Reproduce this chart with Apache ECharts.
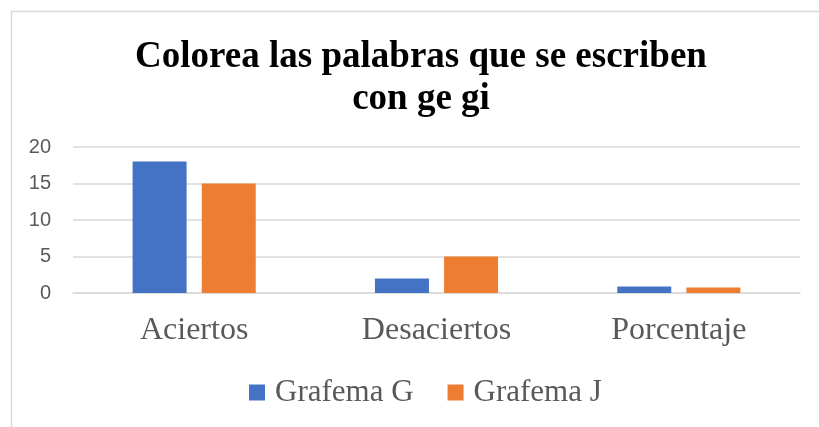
<!DOCTYPE html>
<html>
<head>
<meta charset="utf-8">
<script src="https://cdn.jsdelivr.net/npm/echarts@6/dist/echarts.min.js"></script>
<style>html,body{margin:0;padding:0;background:#fff}#c{width:819px;height:427px}</style>
</head>
<body>
<div id="c"></div>
<script>
var titleText = 'Colorea las palabras que se escriben\ncon ge gi';
var categories = ['Aciertos', 'Desaciertos', 'Porcentaje'];
var seriesNames = ['Grafema G', 'Grafema J'];
var grafemaG = [18, 2, 0.9];
var grafemaJ = [15, 5, 0.75];
var yTicks = [0, 5, 10, 15, 20];

var chart = echarts.init(document.getElementById('c'), null, {renderer: 'canvas'});
chart.setOption({
  animation: false,
  backgroundColor: '#fff',
  graphic: [{
    type: 'rect', left: 9, top: 9,
    shape: {width: 900, height: 900},
    style: {fill: 'none', stroke: '#d9d9d9', lineWidth: 1.5},
    silent: true
  }],
  title: {
    text: titleText,
    left: 421, top: 36, textAlign: 'center',
    padding: 0,
    textStyle: {fontFamily: 'Liberation Serif', fontWeight: 'bold', fontSize: 37, lineHeight: 42, color: '#000'}
  },
  legend: {
    data: seriesNames,
    left: 244, top: 372,
    itemWidth: 16, itemHeight: 16, itemGap: 34,
    icon: 'rect',
    textStyle: {fontFamily: 'Liberation Serif', fontSize: 31, color: '#595959', padding: [0, 0, 0, 5]}
  },
  grid: {left: 73, right: 19, top: 147, bottom: 134},
  xAxis: {
    type: 'category', data: categories,
    axisLine: {show: true, lineStyle: {color: '#d9d9d9', width: 1.5}},
    axisTick: {show: false},
    axisLabel: {fontFamily: 'Liberation Serif', fontSize: 32, color: '#595959', margin: 22}
  },
  yAxis: {
    type: 'value', min: yTicks[0], max: yTicks[yTicks.length - 1], interval: 5,
    axisLine: {show: false}, axisTick: {show: false},
    splitLine: {lineStyle: {color: '#d9d9d9', width: 1.5}},
    axisLabel: {fontFamily: 'Liberation Sans', fontSize: 20, color: '#595959', margin: 22}
  },
  series: [
    {name: seriesNames[0], type: 'bar', data: grafemaG, barWidth: 54, barGap: '28%', itemStyle: {color: '#4472c4'}},
    {name: seriesNames[1], type: 'bar', data: grafemaJ, barWidth: 54, barGap: '28%', itemStyle: {color: '#ed7d31'}}
  ]
});
</script>
</body>
</html>
